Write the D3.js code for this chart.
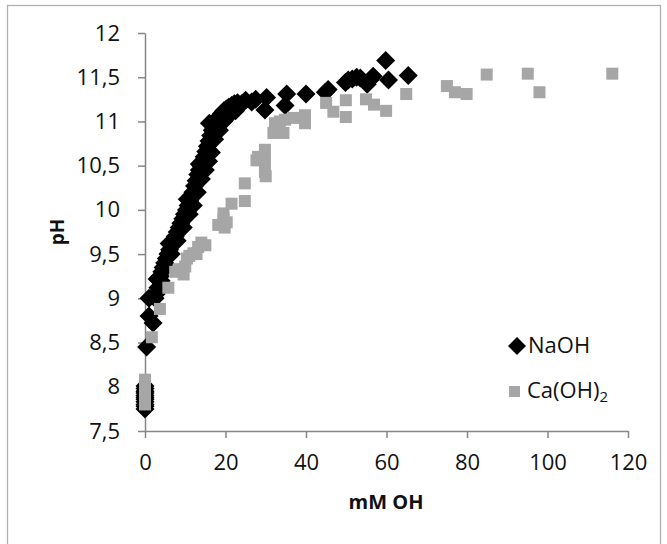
<!DOCTYPE html>
<html>

<head>
  <meta charset="utf-8">
  <title>pH vs mM OH</title>
  <style>
    body { margin: 0; background: #fff; }
    text { font-family: "Open Sans", sans-serif; }
  </style>
</head>

<body>

  <script src="https://cdnjs.cloudflare.com/ajax/libs/d3/7.8.5/d3.min.js"></script>
  <script type="text/javascript">
    // NaOH titration, mM OH added vs pH
    var naohX = [0, 0, 0, 0, 0, 0, 0, 0, 0, 0, 0,
      0.4, 1.0, 2.0, 1.0, 2.5,
      2.8, 3.2, 3.5, 3.8, 4.2, 4.5, 4.9, 5.3, 5.7, 6.1, 6.6, 7.0, 7.5, 8.0, 8.5, 8.9, 9.4, 9.8,
      10.3, 10.7, 11.1, 11.5, 11.9, 12.3, 12.7, 13.1, 13.5, 13.9, 14.3, 14.7, 15.1, 15.5, 15.9,
      16.3, 16.7, 17.1, 17.5, 18.0, 18.5, 19.0, 19.6, 20.2, 20.8, 21.5, 22.2, 23.0,
      4.0, 5.0, 6.5, 8.0, 9.5, 11.0, 12.0, 13.0, 14.0, 15.0, 15.8, 16.5, 17.3, 18.5, 19.5, 20.5, 21.5, 22.5,
      3.0, 6.0, 10.5, 13.5, 16.0,
      24.0, 25.0, 26.5, 27.5, 29.8, 30.2, 34.8, 35.2, 40.0, 44.8, 45.5, 49.8, 50.5, 51.5, 52.6, 53.5,
      55.2, 55.9, 56.7, 59.8, 60.5, 65.4];
    var naohPH = [7.75, 7.78, 7.8, 7.83, 7.86, 7.88, 7.9, 7.93, 7.95, 7.98, 8.01,
      8.45, 8.8, 8.72, 9.0, 9.0,
      9.05, 9.12, 9.2, 9.25, 9.3, 9.35, 9.4, 9.45, 9.5, 9.55, 9.6, 9.65, 9.7, 9.75, 9.8, 9.85, 9.9, 9.95,
      10.0, 10.05, 10.1, 10.15, 10.2, 10.27, 10.33, 10.4, 10.45, 10.5, 10.55, 10.6, 10.66, 10.72, 10.78,
      10.84, 10.9, 10.95, 11.0, 11.03, 11.06, 11.09, 11.12, 11.14, 11.16, 11.18, 11.2, 11.21,
      9.2, 9.35, 9.5, 9.65, 9.8, 9.95, 10.05, 10.2, 10.35, 10.45, 10.55, 10.65, 10.8, 10.9, 11.0, 11.05, 11.1, 11.12,
      9.22, 9.62, 10.12, 10.52, 10.98,
      11.2, 11.24, 11.22, 11.25, 11.13, 11.27, 11.18, 11.31, 11.31, 11.33, 11.36, 11.44, 11.47, 11.48, 11.5, 11.49,
      11.42, 11.47, 11.51, 11.69, 11.47, 11.52];

    // Ca(OH)2 titration
    var caX = [0, 0, 0, 0, 0, 0, 0,
      1.7, 3.7, 5.8, 7.5, 8.5, 9.6, 10.0, 10.4, 11.0, 12.0, 12.8, 13.2, 14.0, 15.0,
      18.2, 19.5, 19.8, 20.3, 19.5, 21.5, 24.8, 24.8, 27.7, 28.1, 29.8, 29.8, 29.8, 30.0,
      31.9, 32.3, 33.5, 34.4, 34.8, 36.8, 39.75, 39.75, 45.0, 46.8, 49.9, 49.9, 54.9, 56.9,
      59.9, 64.9, 75.0, 77.0, 79.9, 84.9, 95.1, 98.0, 116.1];
    var caPH = [7.8, 7.85, 7.9, 7.95, 8.0, 8.05, 8.08,
      8.56, 8.88, 9.12, 9.3, 9.33, 9.27, 9.36, 9.45, 9.48, 9.51, 9.5, 9.58, 9.63, 9.6,
      9.83, 9.9, 9.8, 9.86, 9.96, 10.07, 10.1, 10.3, 10.56, 10.6, 10.68, 10.56, 10.43, 10.38,
      10.87, 10.98, 11.0, 10.87, 11.02, 11.04, 11.07, 10.98, 11.21, 11.11, 11.24, 11.05, 11.25, 11.19,
      11.12, 11.31, 11.4, 11.33, 11.31, 11.53, 11.54, 11.33, 11.54];

    var xTicks = [0, 20, 40, 60, 80, 100, 120];
    var yTicks = [7.5, 8, 8.5, 9, 9.5, 10, 10.5, 11, 11.5, 12];
    var seriesNames = ["NaOH", "Ca(OH)"];

    var width = 667;
    var height = 544;
    var axisColor = "#868686";

    var svg = d3.select("body")
      .append("svg")
      .attr("width", width)
      .attr("height", height);

    // outer chart frame
    svg.append("rect")
      .attr("x", 7.5)
      .attr("y", 5.5)
      .attr("width", 653)
      .attr("height", 545)
      .attr("fill", "none")
      .attr("stroke", "#b0b0b0")
      .attr("stroke-width", 1.3);

    var x = d3.scaleLinear().domain([0, 120]).range([145, 628]);
    var y = d3.scaleLinear().domain([7.5, 12]).range([431, 33]);

    function comma(d) {
      return String(d).replace(".", ",");
    }

    var yAxis = svg.append("g")
      .attr("transform", "translate(" + x(0) + ",0)")
      .call(d3.axisLeft(y).tickValues(yTicks).tickSize(7).tickSizeOuter(0)
        .tickPadding(18).tickFormat(comma));

    var xAxis = svg.append("g")
      .attr("transform", "translate(0," + y(7.5) + ")")
      .call(d3.axisBottom(x).tickValues(xTicks).tickSize(7).tickSizeOuter(0)
        .tickPadding(16));

    [xAxis, yAxis].forEach(function(g) {
      g.selectAll("path, line")
        .attr("stroke", axisColor)
        .attr("stroke-width", 1.5);
      g.selectAll("text")
        .attr("fill", "#111")
        .style("font-family", "'Open Sans', sans-serif")
        .style("font-size", "22px");
    });

    // axis titles
    svg.append("text")
      .attr("x", 386)
      .attr("y", 509)
      .attr("text-anchor", "middle")
      .style("font-weight", "bold")
      .style("font-size", "20px")
      .attr("fill", "#111")
      .text("mM OH");

    svg.append("text")
      .attr("transform", "translate(64,232) rotate(-90)")
      .attr("text-anchor", "middle")
      .style("font-weight", "bold")
      .style("font-size", "19px")
      .attr("fill", "#111")
      .text("pH");

    function diamondPath(cx, cy, r) {
      return "M" + cx + "," + (cy - r) + "L" + (cx + r) + "," + cy +
        "L" + cx + "," + (cy + r) + "L" + (cx - r) + "," + cy + "Z";
    }

    // NaOH series (drawn first)
    svg.append("g").selectAll("path")
      .data(d3.range(naohX.length))
      .enter().append("path")
      .attr("d", function(i) {
        return diamondPath(x(naohX[i]), y(naohPH[i]), 9.5);
      })
      .attr("fill", "#000");

    // Ca(OH)2 series on top
    svg.append("g").selectAll("rect")
      .data(d3.range(caX.length))
      .enter().append("rect")
      .attr("x", function(i) { return x(caX[i]) - 6; })
      .attr("y", function(i) { return y(caPH[i]) - 6; })
      .attr("width", 12)
      .attr("height", 12)
      .attr("fill", "#a6a6a6");

    // legend
    var legend = svg.append("g");
    legend.append("path")
      .attr("d", diamondPath(517, 346, 9))
      .attr("fill", "#000");
    legend.append("text")
      .attr("x", 528)
      .attr("y", 353)
      .style("font-size", "22px")
      .attr("fill", "#111")
      .text(seriesNames[0]);

    legend.append("rect")
      .attr("x", 509)
      .attr("y", 386)
      .attr("width", 11)
      .attr("height", 11)
      .attr("fill", "#a6a6a6");
    var caLabel = legend.append("text")
      .attr("x", 527)
      .attr("y", 398)
      .style("font-size", "22px")
      .attr("fill", "#111")
      .text(seriesNames[1]);
    caLabel.append("tspan")
      .attr("dy", 4)
      .style("font-size", "15px")
      .text("2");
  </script>
</body>

</html>
